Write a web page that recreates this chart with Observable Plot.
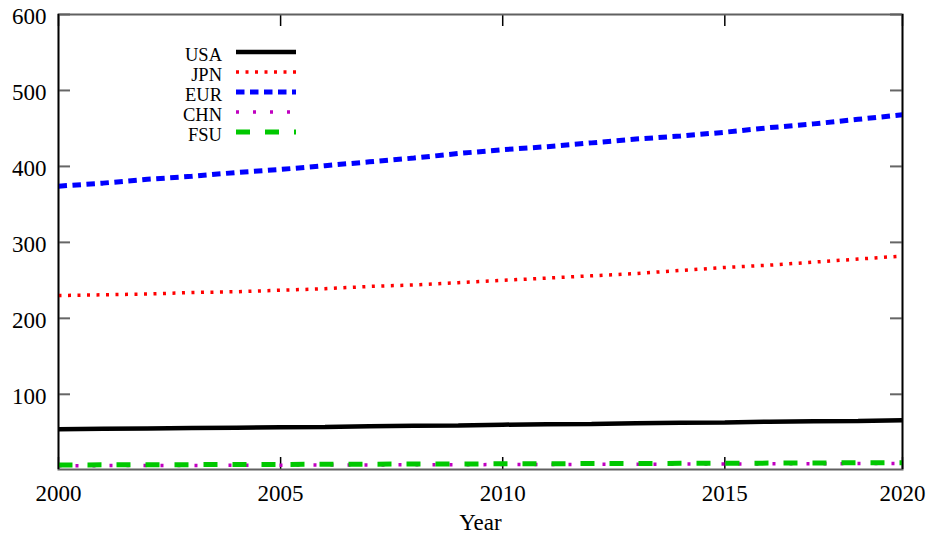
<!DOCTYPE html>
<html><head><meta charset="utf-8">
<script src="https://cdn.jsdelivr.net/npm/d3@7"></script>
<script src="https://cdn.jsdelivr.net/npm/@observablehq/plot@0.6"></script>
<style>
body{margin:0;background:#fff}
#chart{position:relative;width:929px;height:535px}
</style>
</head><body><div id="chart"></div>
<script>
const years = [2000,2001,2002,2003,2004,2005,2006,2007,2008,2009,2010,2011,2012,2013,2014,2015,2016,2017,2018,2019];
const usa = [54,54.5,55,55.5,56,56.5,57,58,58.5,59,60,60.5,61,62,62.5,63,64,64.5,65,66];
const jpn = [230,231,232,234,235,237,239,242,244,247,250,253,256,259,263,267,270,274,278,282];
const eur = [374,378,383,387,392,396,401,406,411,417,422,426,431,436,440,445,451,456,462,468];
const chn = [6,6.1,6.3,6.4,6.6,6.7,6.9,7,7.2,7.3,7.5,7.6,7.8,7.9,8.1,8.3,8.4,8.6,8.8,9];
const fsu = [7,7.1,7.3,7.4,7.6,7.7,7.9,8,8.2,8.3,8.5,8.6,8.8,8.9,9.1,9.3,9.4,9.6,9.8,10];
const seriesNames = ["USA","JPN","EUR","CHN","FSU"];
const seriesValues = [usa, jpn, eur, chn, fsu];
const yTicks = [100,200,300,400,500,600];
const xTickValues = [2000,2005,2010,2015,2019];
const xTickLabels = ["2000","2005","2010","2015","2020"];

const styles = {
  USA: {stroke:"#000000", strokeWidth:4.5, dash:null},
  JPN: {stroke:"#ff0000", strokeWidth:3.5, dash:"3,6.5"},
  EUR: {stroke:"#0000ff", strokeWidth:5, dash:"8.5,5.5"},
  CHN: {stroke:"#c000c0", strokeWidth:3.5, dash:"3,14"},
  FSU: {stroke:"#00c800", strokeWidth:5, dash:"14,15"}
};

const W = 929, H = 535;
const mL = 58, mR = 27, mT = 14, mB = 66;
const pw = W - mL - mR, ph = H - mT - mB;
const font = "'Liberation Serif', 'Times New Roman', serif";

const lineMarks = seriesNames.map((name, k) => {
  const data = years.map((yr, i) => ({year: yr, value: seriesValues[k][i]}));
  const s = styles[name];
  return Plot.line(data, {x: "year", y: "value", stroke: s.stroke, strokeWidth: s.strokeWidth,
    strokeDasharray: s.dash, strokeLinecap: "butt", strokeLinejoin: "miter"});
});

const chart = Plot.plot({
  width: W, height: H,
  marginLeft: mL, marginRight: mR, marginTop: mT, marginBottom: mB,
  style: {background: "#fff", color: "#000"},
  x: {domain: [2000, 2019]},
  y: {domain: [1, 600]},
  marks: [
    Plot.axisY({ticks: yTicks, tickSize: 0, tickPadding: 12, fontSize: 23, dy: 2, label: null}),
    Plot.axisX({ticks: xTickValues, tickFormat: (d) => xTickLabels[xTickValues.indexOf(d)], tickSize: 0, tickPadding: 15, fontSize: 23, label: null}),
    Plot.text(["Year"], {frameAnchor: "bottom", lineAnchor: "middle", dy: 53, fontSize: 23, fill: "#000"}),
    Plot.tickY(yTicks, {y: d => d, stroke: "#666", strokeWidth: 2, insetRight: pw - 12}),
    Plot.tickY(yTicks, {y: d => d, stroke: "#666", strokeWidth: 2, insetLeft: pw - 12}),
    Plot.tickX(xTickValues, {x: d => d, stroke: "#000", strokeWidth: 1.5, insetBottom: ph - 12}),
    Plot.tickX(xTickValues, {x: d => d, stroke: "#000", strokeWidth: 1.5, insetTop: ph - 12}),
    Plot.frame({stroke: "#606060", strokeWidth: 2}),
    ...lineMarks,
    Plot.ruleX([2000, 2019], {stroke: "#000", strokeWidth: 1.6})
  ]
});
document.getElementById("chart").appendChild(chart);

const svg = d3.select(chart);
svg.style("font-family", font).attr("font-family", font);
svg.selectAll("g, text").attr("font-family", font).style("font-family", font).style("font-variant", "normal");

// legend inside plot area (top-left)
const lg = svg.append("g").attr("font-family", font).attr("font-size", 18.5);
seriesNames.forEach((name, i) => {
  const s = styles[name];
  const yy = 52 + i * 20;
  lg.append("text").attr("x", 222).attr("y", yy + 4.5).attr("text-anchor", "end")
    .attr("dominant-baseline", "middle").attr("fill", "#000").text(name);
  lg.append("line").attr("x1", 236).attr("x2", 296).attr("y1", yy).attr("y2", yy)
    .attr("stroke", s.stroke).attr("stroke-width", s.strokeWidth)
    .attr("stroke-dasharray", s.dash).attr("stroke-linecap", "butt");
});
</script>
</body></html>
